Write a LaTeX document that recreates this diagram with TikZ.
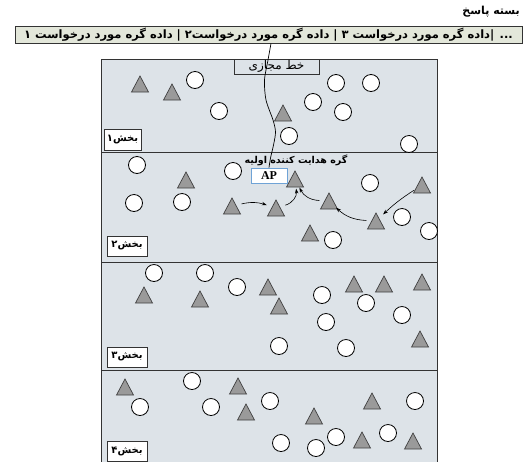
\documentclass[tikz,border=0pt]{standalone}
\usepackage{fontspec}
\setmainfont{Liberation Serif}
\newfontfamily\fa[Script=Arabic]{DejaVu Sans}
\TeXXeTstate=1
\usetikzlibrary{arrows.meta}
\definecolor{bgblue}{HTML}{DDE3E8}
\definecolor{bargreen}{HTML}{E3E7DA}
\definecolor{trigray}{HTML}{9A9A9A}
\definecolor{apblue}{HTML}{6FA3D6}
\definecolor{edge}{HTML}{333333}
\tikzset{
  circ/.style={circle,draw=black,fill=white,line width=0.8pt,minimum size=17pt,inner sep=0pt},
  tri/.pic={\draw[line width=0.7pt,draw=black!75,fill=trigray] (-8.5,8) -- (0,-8) -- (8.5,8) -- cycle;
            \node[circle,minimum size=19pt,inner sep=0pt] (-c) at (0,0) {};},
  arr/.style={-{Stealth[length=5pt,width=3.5pt]},line width=0.6pt},
  seclabel/.style={draw=edge,fill=white,line width=0.8pt,inner sep=0pt,minimum width=40pt,minimum height=20pt,font=\fa\bfseries\fontsize{10}{11}\selectfont},
}
\begin{document}
\begin{tikzpicture}[x=1pt,y=-1pt]
\useasboundingbox (0,0) rectangle (526,461);
% header
\node[anchor=east,inner sep=0pt,font=\fa\bfseries\fontsize{11}{12}\selectfont] (head) at (520,12) {\beginR بسته پاسخ\endR};
\node[draw=edge,fill=bargreen,line width=0.9pt,minimum width=507pt,minimum height=16.5pt,inner sep=0pt,
      font=\fa\bfseries\fontsize{11.5}{12}\selectfont] (bar) at (268.5,35)
  {\beginR ... |داده گره مورد درخواست ۳ | داده گره مورد درخواست۲ | داده گره مورد درخواست ۱\endR};
% main area
\draw[draw=edge,fill=bgblue,line width=0.9pt] (101.5,59) rectangle (437,475);
\foreach \yy in {152,262,370} \draw[draw=edge,line width=0.9pt] (101.5,\yy) -- (437,\yy);
% labels
\node[draw=edge,line width=0.8pt,minimum width=85pt,minimum height=15pt,inner sep=0pt,font=\fa\fontsize{12}{13}\selectfont] (vbox) at (276.5,66.5) {\beginR خط مجازی\endR};
\node[seclabel,minimum width=37pt,minimum height=21pt] (s1) at (122.5,139.5) {\beginR بخش۱\endR};
\node[seclabel] (s2) at (127,246) {\beginR بخش۲\endR};
\node[seclabel] (s3) at (127,357) {\beginR بخش۳\endR};
\node[seclabel] (s4) at (127,451) {\beginR بخش۴\endR};
% circles
\foreach \x/\y [count=\i] in {195/80,219/111,336/83,371/83,313/102,343/112,289/136,409/144,
  137/165,233/171,134/203,182/202,370/183,402/217,429/231,333/240,
  154/273,205/273,237/287,322/295,366/303,402/315,326/322,279/346,346/348,
  192/381,140/407,211/407,270/401,415/401,281/443,316/448,336/437,388/433}
  \node[circ] (c\i) at (\x,\y) {};
% triangles
\foreach \x/\y [count=\i] in {140/84,172/92,283/113,186/180,310/233,
  144/295,200/299,268/287,279/306,354/284,384/284,422/282,420/339,
  125/387,238/386,246/412,314/416,372/401,362/440,413/441}
  \pic (t\i) at (\x,\y) {tri};
\pic (tA) at (232,206) {tri};
\pic (tB) at (276,208) {tri};
\pic (tC) at (295,179) {tri};
\pic (tD) at (329,201) {tri};
\pic (tE) at (376,221) {tri};
\pic (tF) at (422,185) {tri};
% initial guiding node
\node[font=\fa\bfseries\fontsize{9.5}{10}\selectfont,inner sep=0pt] (glabel) at (296,160) {\beginR گره هدایت کننده اولیه\endR};
\node[draw=apblue,fill=white,line width=0.8pt,minimum width=36pt,minimum height=15pt,inner sep=0pt,font=\bfseries\fontsize{12}{12}\selectfont] (AP) at (269,175.5) {AP};
% arrows
\draw[arr] (tA-c) to[bend left=15] (tB-c);
\draw[arr] (tB-c) to[bend right=40] (tC-c);
\draw[arr] (tD-c) to[bend left=30] (tC-c);
\draw[arr] (tE-c) to[bend left=20] (tD-c);
\draw[arr] (tF-c) to[bend right=5] (tE-c);
% virtual line
\coordinate (vtop) at (271,43.5);
\draw[line width=0.7pt] plot[smooth] coordinates {(vtop) (268,60) (264.5,80) (266,100) (273,120) (275.5,132) (273.5,145) (270.5,158) (AP.north)};
\end{tikzpicture}
\end{document}
